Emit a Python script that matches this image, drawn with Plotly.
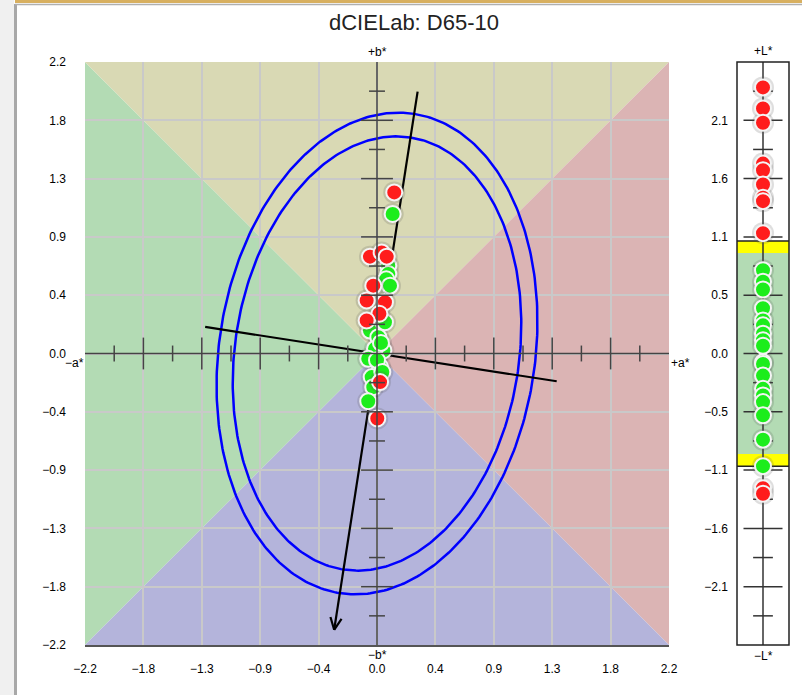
import numpy as np
import plotly.graph_objects as go

W, H = 802, 695

title_text = "dCIELab: D65-10"

# axis extents
AB_RANGE = 2.2
AB_STEP = 0.44
L_RANGE = 2.64
L_STEP = 0.528

# measured points (delta a*, delta b*, delta L*)
red_a = [0.130, -0.053, 0.035, 0.073, -0.028, -0.078, 0.060, 0.018, -0.078, 0.023, 0.002]
red_b = [1.216, 0.731, 0.763, 0.731, 0.512, 0.400, 0.387, 0.300, 0.249, -0.216, -0.490]
red_L = [2.41, 2.22, 2.09, 1.72, 1.66, 1.53, 1.41, 1.38, 1.09, -1.22, -1.27]

green_a = [0.118, 0.085, 0.085, 0.070, 0.098, 0.060, -0.053, 0.010, 0.048, -0.015,
           0.030, -0.066, 0.023, -0.040, -0.028, -0.066, 0.000, 0.040]
green_b = [1.053, 0.663, 0.600, 0.560, 0.512, 0.236, 0.173, 0.123, 0.023, 0.035,
           0.080, -0.040, -0.100, -0.178, -0.254, -0.360, -0.050, -0.140]
green_L = [0.755, 0.65, 0.58, 0.41, 0.30, 0.255, 0.18, 0.12, 0.07, -0.08,
           -0.094, -0.20, -0.32, -0.38, -0.44, -0.56, -0.78, -1.02]

# tolerance ellipses (semi-axes along the major / minor directions)
ellipse_major = [1.83, 1.65]
ellipse_minor = [1.19, 1.07]
ellipse_angle_deg = 8.8          # major axis rotated clockwise from +b*
major_line_ext = [-2.11, 2.0]    # arrow at the negative end
minor_line_ext = [-1.31, 1.37]

# lightness tolerance bands
L_green = 0.91
L_yellow = 1.02

# colours
c_left, c_top, c_right, c_bottom = "#b3dbb4", "#d9d9b4", "#dbb4b4", "#b4b4db"
c_red, c_green = "#ff1c1c", "#1ced1c"

# pixel layout
main_x = (85, 669)
main_y = (62, 645)
lpan_x = (737, 789)

def px2fx(p):
    return p / W

def px2fy(p):
    return 1 - p / H

def fmt(v):
    v = round(v, 1)
    if abs(v) < 1e-9:
        v = 0.0
    return f"{v:.1f}".replace("-", "\u2212")

fig = go.Figure()

# ---- ellipses ----
th = np.deg2rad(ellipse_angle_deg)
mdir = np.array([np.sin(th), np.cos(th)])
ndir = np.array([np.cos(th), -np.sin(th)])
t = np.linspace(0, 2 * np.pi, 361)
for a_, b_ in zip(ellipse_major, ellipse_minor):
    u = a_ * np.cos(t)
    v = b_ * np.sin(t)
    fig.add_trace(go.Scatter(x=u * mdir[0] + v * ndir[0], y=u * mdir[1] + v * ndir[1],
                             mode="lines", line=dict(color="#0000ff", width=2.5),
                             hoverinfo="skip", showlegend=False, xaxis="x", yaxis="y"))

# ---- principal axis lines ----
p0 = major_line_ext[0] * mdir
p1 = major_line_ext[1] * mdir
fig.add_trace(go.Scatter(x=[p0[0], p1[0]], y=[p0[1], p1[1]], mode="lines",
                         line=dict(color="black", width=2.2), hoverinfo="skip", showlegend=False))
q0 = minor_line_ext[0] * ndir
q1 = minor_line_ext[1] * ndir
fig.add_trace(go.Scatter(x=[q0[0], q1[0]], y=[q0[1], q1[1]], mode="lines",
                         line=dict(color="black", width=2.2), hoverinfo="skip", showlegend=False))
# arrow head (open V)
alen = 0.1
ax_, ay_ = [], []
for ang in (np.deg2rad(25), -np.deg2rad(25)):
    rx = mdir[0] * np.cos(ang) - mdir[1] * np.sin(ang)
    ry = mdir[0] * np.sin(ang) + mdir[1] * np.cos(ang)
    ax_ += [p0[0], p0[0] + alen * rx, None]
    ay_ += [p0[1], p0[1] + alen * ry, None]
fig.add_trace(go.Scatter(x=ax_, y=ay_, mode="lines", line=dict(color="black", width=2.2),
                         hoverinfo="skip", showlegend=False))

# ---- points ----
def add_points(xs, ys, color, xa, ya):
    fig.add_trace(go.Scatter(x=xs, y=ys, mode="markers", xaxis=xa, yaxis=ya,
                             marker=dict(size=22, color="rgba(90,90,90,0.2)", line=dict(width=0)),
                             hoverinfo="skip", showlegend=False))
    fig.add_trace(go.Scatter(x=xs, y=ys, mode="markers", xaxis=xa, yaxis=ya,
                             marker=dict(size=16, color=color, line=dict(color="#f4f4f4", width=2)),
                             showlegend=False))

add_points(green_a, green_b, c_green, "x", "y")
add_points(red_a, red_b, c_red, "x", "y")
add_points([0] * len(green_L), green_L, c_green, "x2", "y2")
add_points([0] * len(red_L), red_L, c_red, "x2", "y2")

shapes = []
R = AB_RANGE
# background quadrants
for path, col in [
    (f"M {-R},{-R} L {-R},{R} L 0,0 Z", c_left),
    (f"M {-R},{R} L {R},{R} L 0,0 Z", c_top),
    (f"M {R},{R} L {R},{-R} L 0,0 Z", c_right),
    (f"M {R},{-R} L {-R},{-R} L 0,0 Z", c_bottom),
]:
    shapes.append(dict(type="path", path=path, xref="x", yref="y", fillcolor=col,
                       line=dict(width=0), layer="below"))

# cross hair axes with ticks
axc = "#444444"
shapes.append(dict(type="line", xref="x", yref="y", x0=-R, x1=R, y0=0, y1=0,
                   line=dict(color=axc, width=1.5), layer="above"))
shapes.append(dict(type="line", xref="x", yref="y", x0=0, x1=0, y0=-R, y1=R,
                   line=dict(color=axc, width=1.5), layer="above"))
half = AB_STEP / 2
for k in range(-9, 10):
    if k == 0:
        continue
    v = k * half
    ln = 0.12 if k % 2 == 0 else 0.06
    shapes.append(dict(type="line", xref="x", yref="y", x0=v, x1=v, y0=-ln, y1=ln,
                       line=dict(color=axc, width=1.5), layer="above"))
    shapes.append(dict(type="line", xref="x", yref="y", x0=-ln, x1=ln, y0=v, y1=v,
                       line=dict(color=axc, width=1.5), layer="above"))

# L panel bands
shapes.append(dict(type="rect", xref="x2 domain", yref="y2", x0=0, x1=1, y0=-L_green, y1=L_green,
                   fillcolor=c_left, line=dict(width=0), layer="below"))
for s in (1, -1):
    shapes.append(dict(type="rect", xref="x2 domain", yref="y2", x0=0, x1=1,
                       y0=s * L_green, y1=s * L_yellow, fillcolor="#ffff00",
                       line=dict(width=0), layer="below"))
    shapes.append(dict(type="line", xref="x2 domain", yref="y2", x0=0, x1=1,
                       y0=s * L_yellow, y1=s * L_yellow, line=dict(color="#222", width=1.5),
                       layer="below"))
# L axis line and ticks
shapes.append(dict(type="line", xref="x2", yref="y2", x0=0, x1=0, y0=-L_RANGE, y1=L_RANGE,
                   line=dict(color="#333", width=1.5), layer="below"))
lhalf = L_STEP / 2
for k in range(-9, 10):
    v = k * lhalf
    ln = 0.75 if k % 2 == 0 else 0.38
    shapes.append(dict(type="line", xref="x2", yref="y2", x0=-ln, x1=ln, y0=v, y1=v,
                       line=dict(color="#333", width=1.5), layer="below"))
shapes.append(dict(type="rect", xref="x2 domain", yref="y2 domain", x0=0, x1=1, y0=0, y1=1,
                   line=dict(color="#222", width=1.5), layer="above"))

# window chrome
shapes.append(dict(type="rect", xref="paper", yref="paper", x0=0, x1=px2fx(14), y0=0, y1=1,
                   fillcolor="#f0f0f0", line=dict(width=0), layer="below"))
shapes.append(dict(type="line", xref="paper", yref="paper", x0=px2fx(15.5), x1=px2fx(15.5), y0=0,
                   y1=px2fy(4), line=dict(color="#a8a8a8", width=3), layer="below"))
shapes.append(dict(type="rect", xref="paper", yref="paper", x0=px2fx(15), x1=1, y0=px2fy(3), y1=1,
                   fillcolor="#d8b060", line=dict(width=0), layer="below"))
shapes.append(dict(type="line", xref="paper", yref="paper", x0=px2fx(15), x1=1, y0=px2fy(4.5),
                   y1=px2fy(4.5), line=dict(color="#b0b0b0", width=1.5), layer="below"))

FONT = "Liberation Sans"
ann = []
lab = dict(showarrow=False, font=dict(family=FONT, size=12, color="black"))
ann.append(dict(text="+b*", x=0, y=R, xref="x", yref="y", yanchor="bottom", yshift=1, **lab))
ann.append(dict(text="\u2212b*", x=0, y=-R, xref="x", yref="y", yanchor="top", yshift=-1, **lab))
ann.append(dict(text="\u2212a*", x=-R, y=0, xref="x", yref="y", xanchor="right", yanchor="top",
                xshift=1, yshift=0, **lab))
ann.append(dict(text="+a*", x=R, y=0, xref="x", yref="y", xanchor="left", yanchor="top",
                xshift=0, yshift=0, **lab))
ann.append(dict(text="+L*", x=0, y=L_RANGE, xref="x2", yref="y2", yanchor="bottom", yshift=2, **lab))
ann.append(dict(text="\u2212L*", x=0, y=-L_RANGE, xref="x2", yref="y2", yanchor="top", yshift=-2, **lab))
ann.append(dict(text=title_text, x=px2fx(414), y=px2fy(23), xref="paper", yref="paper",
                xanchor="center", yanchor="middle",
                showarrow=False, font=dict(family=FONT, size=22, color="#222")))

ab_ticks = [round(-R + i * AB_STEP, 4) for i in range(11)]
L_ticks = [round(k * L_STEP, 4) for k in range(-4, 5)]

tickfont = dict(family=FONT, size=12, color="black")
fig.update_layout(
    width=W, height=H, margin=dict(l=0, r=0, t=0, b=0, pad=0, autoexpand=False),
    paper_bgcolor="white", plot_bgcolor="rgba(0,0,0,0)",
    showlegend=False, shapes=shapes, annotations=ann,
    xaxis=dict(domain=[px2fx(main_x[0]), px2fx(main_x[1])], range=[-R, R], anchor="y",
               tickvals=ab_ticks, ticktext=[fmt(v) for v in ab_ticks], showgrid=True,
               gridcolor="#c9c9c9", gridwidth=1.5, zeroline=False, showline=True,
               linecolor="#555", linewidth=1.5, ticks="", tickfont=tickfont,
               ticklabelstandoff=12, fixedrange=True, automargin=False),
    yaxis=dict(domain=[px2fy(main_y[1]), px2fy(main_y[0])], range=[-R, R], anchor="x",
               tickvals=ab_ticks, ticktext=[fmt(v) for v in ab_ticks], showgrid=True,
               gridcolor="#c9c9c9", gridwidth=1.5, zeroline=False, showline=False,
               ticks="", tickfont=tickfont, ticklabelstandoff=18, fixedrange=True,
               automargin=False),
    xaxis2=dict(domain=[px2fx(lpan_x[0]), px2fx(lpan_x[1])], range=[-1, 1], anchor="y2",
                showticklabels=False, showgrid=False, zeroline=False, ticks="", fixedrange=True,
                automargin=False),
    yaxis2=dict(domain=[px2fy(main_y[1]), px2fy(main_y[0])], range=[-L_RANGE, L_RANGE], anchor="x2",
                tickvals=L_ticks, ticktext=[fmt(v) for v in L_ticks], showgrid=False,
                zeroline=False, ticks="", tickfont=tickfont, ticklabelstandoff=8, fixedrange=True,
                automargin=False),
)

fig.write_html("out.html")
